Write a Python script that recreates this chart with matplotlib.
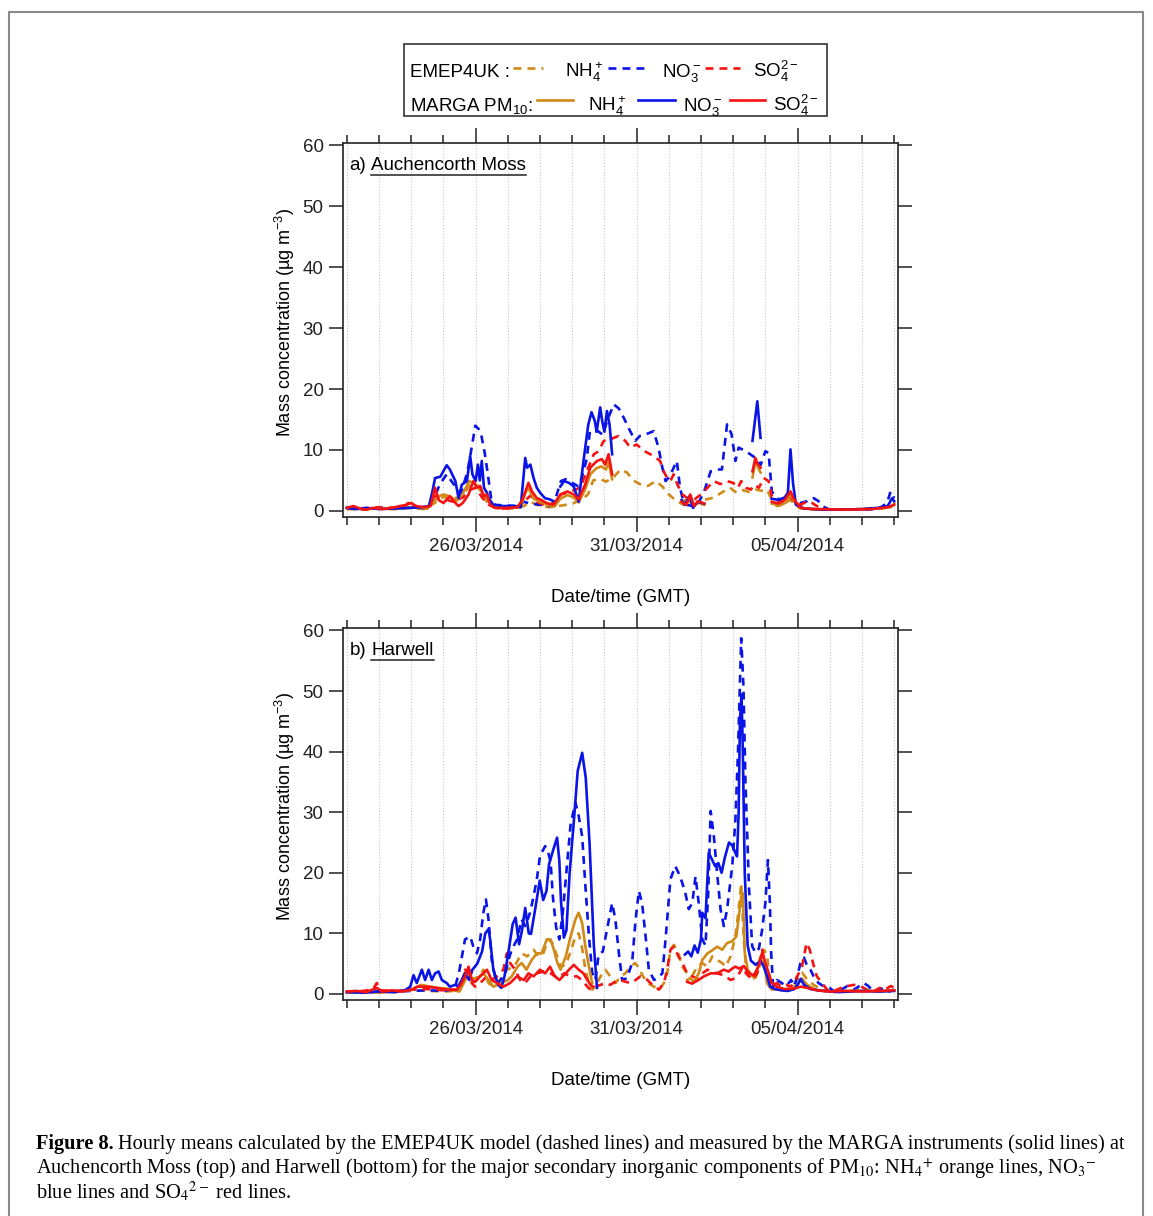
import numpy as np
import matplotlib
matplotlib.use('Agg')
import matplotlib.pyplot as plt
import matplotlib.dates as mdates
from matplotlib.lines import Line2D
from matplotlib.patches import Rectangle

plt.rcParams['font.family'] = ['Liberation Sans', 'DejaVu Sans']
plt.rcParams['mathtext.fontset'] = 'custom'
plt.rcParams['mathtext.rm'] = 'Liberation Sans'
plt.rcParams['mathtext.it'] = 'Liberation Sans:italic'
plt.rcParams['mathtext.bf'] = 'Liberation Sans:bold'

nan = np.nan

# time axis: days after 22/03/2014 00:00 GMT
start = np.datetime64('2014-03-22T00:00')
x_lo, x_hi = -0.12, 17.12

# ---- Auchencorth Moss: (day, ug m-3) ----
auch_nh4_model = [(0, 0.3), (0.5, 0.2), (1, 0.4), (1.5, 0.3), (2, 0.5), (2.4, 0.3), (2.7, 1.2), (3.0, 2.3),
                  (3.3, 2.0), (3.6, 2.5), (3.85, 4.5), (4.05, 4.2), (4.25, 2.2), (4.45, 0.8), (4.7, 0.4),
                  (5.2, 0.4), (5.5, 0.8), (5.7, 1.5), (5.95, 0.9), (6.3, 0.6), (6.7, 0.9), (7.0, 1.2),
                  (7.3, 1.8), (7.5, 2.8), (7.65, 5.0), (7.85, 5.3), (8.05, 4.8), (8.3, 5.6), (8.5, 6.8),
                  (8.7, 6.3), (8.9, 5.0), (9.1, 4.4), (9.35, 4.1), (9.6, 4.9), (9.8, 4.0), (10.0, 2.7),
                  (10.2, 1.8), (10.45, 1.0), (10.8, 1.0), (11.1, 1.8), (11.4, 2.2), (11.7, 3.2), (11.9, 3.8),
                  (12.1, 3.0), (12.3, 3.4), (12.5, 3.1), (12.7, 3.5), (12.9, 3.3), (13.05, 3.5), (13.2, 1.8),
                  (13.35, 0.8), (13.55, 1.0), (13.75, 1.8), (13.9, 1.3), (14.05, 0.5), (14.3, 0.3),
                  (15, 0.2), (16, 0.3), (16.6, 0.4), (16.85, 0.6), (17.0, 0.8)]
auch_no3_model = [(0, 0.4), (0.5, 0.3), (1, 0.5), (1.5, 0.4), (2, 0.6), (2.5, 0.4), (2.7, 2.0), (2.9, 4.5),
                  (3.1, 6.0), (3.3, 4.5), (3.55, 3.0), (3.75, 6.5), (3.88, 10.5), (3.99, 14.0), (4.1, 13.4),
                  (4.17, 12.6), (4.28, 9.6), (4.38, 6.0), (4.48, 2.1), (4.6, 1.0), (4.9, 0.9), (5.3, 0.8),
                  (5.5, 1.5), (5.7, 1.2), (6.0, 1.0), (6.3, 0.8), (6.45, 1.5), (6.55, 3.2), (6.65, 4.9),
                  (6.8, 5.2), (7.0, 4.6), (7.2, 4.0), (7.3, 5.5), (7.45, 8.5), (7.55, 13.1), (7.8, 13.1),
                  (7.95, 12.5), (8.1, 15.0), (8.29, 17.5), (8.45, 16.8), (8.6, 15.3), (8.8, 13.1),
                  (8.96, 11.5), (9.1, 12.3), (9.3, 12.6), (9.53, 13.1), (9.68, 10.4), (9.8, 7.1), (9.9, 4.9),
                  (10.0, 5.5), (10.1, 6.5), (10.25, 8.2), (10.35, 3.8), (10.45, 1.6), (10.55, 1.0),
                  (10.75, 0.8), (10.95, 1.6), (11.1, 3.2), (11.3, 6.5), (11.5, 6.8), (11.65, 6.8),
                  (11.81, 14.2), (11.95, 12.6), (12.07, 8.2), (12.17, 10.4), (12.28, 10.1), (12.45, 9.6),
                  (12.69, 8.7), (12.85, 7.5), (13.0, 9.8), (13.1, 9.5), (13.2, 3.2), (13.35, 2.1),
                  (13.5, 1.8), (13.65, 2.4), (13.8, 2.6), (13.9, 1.6), (14.1, 1.3), (14.3, 1.6), (14.5, 2.1),
                  (14.65, 1.6), (14.8, 0.7), (15.0, 0.2), (16.0, 0.2), (16.5, 0.3), (16.7, 1.0),
                  (16.78, 1.3), (16.89, 3.2), (17.0, 2.1)]
auch_so4_model = [(0, 0.5), (0.5, 0.4), (1, 0.6), (1.5, 0.5), (1.8, 0.8), (1.97, 1.6), (2.1, 0.6), (2.5, 0.4),
                  (2.75, 2.5), (3.0, 2.0), (3.3, 1.5), (3.6, 2.2), (3.85, 3.5), (4.0, 3.8), (4.2, 2.2),
                  (4.4, 1.0), (4.7, 0.4), (5.2, 0.4), (5.5, 1.5), (5.7, 2.5), (5.9, 1.5), (6.2, 0.8),
                  (6.5, 1.5), (6.65, 2.7), (6.95, 3.2), (7.25, 3.8), (7.45, 6.5), (7.67, 9.3), (7.82, 9.8),
                  (7.98, 11.5), (8.2, 11.8), (8.44, 12.3), (8.65, 11.5), (8.8, 10.4), (9.0, 10.9),
                  (9.25, 9.8), (9.53, 9.0), (9.73, 8.2), (9.84, 6.5), (9.95, 5.4), (10.05, 4.9), (10.15, 6.0),
                  (10.27, 4.3), (10.42, 2.7), (10.58, 2.1), (10.8, 1.9), (11.0, 2.7), (11.2, 3.8),
                  (11.4, 4.9), (11.6, 4.4), (11.8, 4.9), (12.0, 4.6), (12.15, 3.8), (12.25, 4.9),
                  (12.4, 3.8), (12.55, 3.5), (12.65, 4.3), (12.8, 3.8), (12.95, 5.4), (13.1, 4.9),
                  (13.2, 2.4), (13.35, 1.8), (13.55, 1.3), (13.75, 2.4), (13.9, 1.6), (14.1, 1.0),
                  (14.3, 1.6), (14.45, 1.3), (14.6, 0.8), (14.8, 0.3), (15.5, 0.2), (16.5, 0.4),
                  (16.9, 0.8), (17.0, 1.0)]
auch_nh4_meas = [(0, 0.5), (0.5, 0.3), (1, 0.4), (1.5, 0.3), (2, 0.6), (2.5, 0.4), (2.7, 1.5), (2.85, 2.4),
                 (3.0, 2.7), (3.2, 2.4), (3.4, 1.6), (3.6, 2.8), (3.8, 4.9), (3.95, 4.5), (4.1, 3.8),
                 (4.25, 2.7), (4.4, 1.8), (4.55, 0.6), (5.0, 0.5), (5.4, 0.6), (5.55, 3.0), (5.64, 3.8),
                 (5.8, 2.0), (6.0, 1.5), (6.3, 0.9), (6.45, 0.7), (6.63, 2.0), (6.85, 2.6), (7.05, 2.2),
                 (7.2, 1.4), (7.4, 3.5), (7.56, 6.0), (7.75, 7.0), (7.9, 7.3), (8.05, 6.8), (8.13, 8.0),
                 (8.24, 5.2), (8.3, nan), (10.4, 1.5), (10.6, 2.0), (10.75, 0.8), (10.9, 1.4), (11.1, 1.0),
                 (11.2, nan), (12.6, 5.5), (12.7, 8.3), (12.78, 7.0), (12.85, 6.3), (12.9, nan),
                 (13.2, 1.2), (13.5, 1.0), (13.65, 1.4), (13.78, 2.8), (13.9, 1.5), (14.1, 0.4),
                 (14.5, 0.3), (15.5, 0.2), (16.5, 0.4), (16.9, 0.6), (17.0, 1.2)]
auch_no3_meas = [(0, 0.5), (0.3, 0.3), (0.6, 0.5), (1, 0.3), (1.5, 0.4), (2, 0.5), (2.3, 0.6), (2.55, 0.8),
                 (2.65, 3.0), (2.74, 5.4), (2.9, 5.6), (3.1, 7.5), (3.2, 6.8), (3.37, 4.9), (3.47, 2.1),
                 (3.57, 4.3), (3.73, 4.9), (3.83, 9.0), (3.9, 6.0), (4.0, 4.9), (4.07, 7.6), (4.13, 5.0),
                 (4.19, 8.2), (4.26, 3.8), (4.35, 3.0), (4.4, 2.1), (4.55, 1.0), (4.8, 0.8), (5.2, 0.8),
                 (5.4, 0.6), (5.54, 8.7), (5.6, 7.1), (5.7, 7.6), (5.8, 5.4), (5.9, 3.8), (6.0, 3.0),
                 (6.15, 2.1), (6.3, 1.9), (6.42, 1.6), (6.5, nan), (6.63, 4.0), (6.75, 4.9), (6.9, 4.6),
                 (7.05, 4.0), (7.2, 1.5), (7.35, 8.2), (7.5, 14.2), (7.6, 16.2), (7.7, 14.8), (7.76, 13.0),
                 (7.87, 17.0), (7.93, 14.8), (8.0, 13.0), (8.08, 16.4), (8.16, 14.2), (8.24, 9.3),
                 (8.3, nan), (10.4, 1.8), (10.5, 1.0), (10.65, 2.5), (10.75, 0.5), (10.9, 1.5), (11.1, 1.2),
                 (11.2, nan), (12.6, 11.5), (12.75, 18.0), (12.85, 12.0), (12.9, nan), (13.2, 2.0),
                 (13.4, 1.8), (13.6, 2.2), (13.7, 3.0), (13.78, 10.1), (13.86, 4.5), (13.95, 1.0),
                 (14.2, 0.4), (14.8, 0.2), (15.5, 0.2), (16.0, 0.3), (16.5, 0.5), (16.8, 0.8),
                 (16.94, 2.1), (17.0, 1.6)]
auch_so4_meas = [(0, 0.5), (0.2, 0.8), (0.4, 0.4), (0.6, 0.2), (0.8, 0.5), (1.1, 0.3), (1.4, 0.5), (1.65, 0.8),
                 (1.85, 1.0), (2.0, 1.3), (2.15, 0.8), (2.4, 0.6), (2.6, 0.8), (2.74, 3.8), (2.85, 1.8),
                 (3.0, 1.3), (3.2, 2.4), (3.37, 1.3), (3.47, 0.8), (3.6, 1.3), (3.78, 2.7), (3.93, 4.9),
                 (4.04, 3.8), (4.14, 4.1), (4.25, 2.4), (4.35, 2.7), (4.45, 1.0), (4.6, 0.5), (5.0, 0.5),
                 (5.3, 0.6), (5.45, 1.8), (5.64, 4.6), (5.75, 3.2), (5.9, 2.1), (6.0, 1.9), (6.2, 1.3),
                 (6.42, 1.0), (6.63, 2.7), (6.85, 3.2), (7.05, 2.7), (7.2, 1.9), (7.4, 4.3), (7.56, 7.1),
                 (7.77, 8.2), (7.92, 8.5), (8.02, 7.6), (8.13, 9.3), (8.24, 6.0), (8.3, nan), (10.4, 1.5),
                 (10.55, 1.0), (10.67, 2.7), (10.78, 0.8), (10.9, 1.6), (11.1, 1.2), (11.2, nan),
                 (12.6, 6.5), (12.69, 8.7), (12.75, 7.8), (12.85, 7.1), (12.9, nan), (13.2, 1.5),
                 (13.4, 1.2), (13.6, 1.8), (13.78, 3.2), (13.9, 1.8), (14.1, 0.5), (14.5, 0.3),
                 (15.5, 0.2), (16.3, 0.3), (16.8, 0.6), (17.0, 1.0)]

# ---- Harwell ----
harw_nh4_model = [(0, 0.3), (0.5, 0.2), (1, 0.4), (1.5, 0.3), (2, 0.6), (2.5, 0.5), (3, 0.4), (3.4, 0.5),
                  (3.6, 2.9), (3.78, 4.5), (3.9, 1.8), (4.05, 2.3), (4.24, 4.0), (4.4, 1.8), (4.55, 1.2),
                  (4.75, 2.3), (4.97, 4.0), (5.2, 4.5), (5.43, 6.7), (5.6, 6.2), (5.8, 7.3), (5.95, 6.2),
                  (6.1, 6.7), (6.26, 9.0), (6.38, 8.4), (6.5, 6.7), (6.64, 4.5), (6.8, 4.8), (6.95, 7.0),
                  (7.1, 9.5), (7.2, 10.0), (7.3, 7.8), (7.41, 4.0), (7.52, 1.8), (7.62, 0.7), (7.72, 1.2),
                  (7.88, 2.9), (8.03, 4.0), (8.18, 2.9), (8.35, 1.8), (8.5, 2.9), (8.65, 3.4), (8.81, 4.5),
                  (8.95, 5.1), (9.05, 4.5), (9.2, 2.9), (9.35, 1.8), (9.54, 1.2), (9.7, 0.7), (9.85, 1.8),
                  (9.95, 3.4), (10.05, 7.3), (10.16, 8.1), (10.3, 6.7), (10.42, 4.5), (10.57, 3.4),
                  (10.72, 2.9), (10.88, 4.5), (11.04, 5.1), (11.2, 4.5), (11.35, 6.2), (11.5, 5.6),
                  (11.66, 5.1), (11.76, 4.5), (11.92, 6.2), (12.07, 9.5), (12.15, 13.0), (12.25, 18.3),
                  (12.33, 9.0), (12.41, 3.5), (12.53, 2.4), (12.7, 2.7), (12.85, 5.1), (12.95, 7.3),
                  (13.05, 6.5), (13.13, 2.4), (13.2, 0.7), (13.4, 0.9), (13.65, 0.7), (13.85, 1.2),
                  (13.99, 2.4), (14.14, 3.5), (14.3, 2.4), (14.5, 1.5), (14.75, 0.7), (15.0, 0.5),
                  (15.5, 0.4), (16.0, 0.8), (16.2, 0.5), (16.6, 0.4), (17.0, 0.6)]
harw_no3_model = [(0, 0.4), (0.5, 0.3), (1, 0.5), (1.5, 0.4), (2, 0.5), (2.5, 0.6), (3.0, 0.5), (3.35, 0.8),
                  (3.5, 4.0), (3.67, 9.0), (3.83, 9.5), (3.93, 7.8), (4.04, 6.7), (4.14, 9.0), (4.24, 13.4),
                  (4.32, 15.6), (4.4, 12.3), (4.5, 5.6), (4.6, 2.9), (4.71, 1.8), (4.8, 2.5), (4.92, 3.4),
                  (5.02, 5.6), (5.12, 7.3), (5.28, 8.9), (5.43, 12.3), (5.54, 11.2), (5.69, 13.4),
                  (5.8, 16.1), (5.9, 18.9), (6.0, 22.8), (6.16, 24.4), (6.25, 23.5), (6.33, 21.7),
                  (6.4, 16.0), (6.5, 11.0), (6.6, 9.0), (6.7, 13.0), (6.85, 22.0), (6.95, 28.0),
                  (7.1, 31.6), (7.2, 29.4), (7.31, 26.0), (7.41, 17.8), (7.52, 9.5), (7.62, 3.5),
                  (7.72, 2.3), (7.82, 6.5), (7.95, 7.0), (8.14, 12.3), (8.24, 15.0), (8.34, 12.3),
                  (8.45, 6.7), (8.55, 2.3), (8.7, 2.6), (8.86, 5.1), (8.97, 12.3), (9.07, 17.0),
                  (9.17, 15.0), (9.28, 9.5), (9.38, 4.0), (9.54, 2.3), (9.65, 2.6), (9.8, 3.4), (9.9, 9.0),
                  (10.05, 18.9), (10.2, 21.1), (10.3, 20.0), (10.42, 18.3), (10.52, 16.5), (10.62, 14.0),
                  (10.73, 15.0), (10.83, 19.4), (10.93, 15.0), (11.04, 9.0), (11.14, 8.0), (11.22, 16.0),
                  (11.3, 30.2), (11.4, 26.0), (11.5, 20.0), (11.61, 13.9), (11.71, 11.2), (11.81, 13.9),
                  (11.97, 21.1), (12.07, 28.8), (12.15, 40.0), (12.25, 58.7), (12.32, 50.7), (12.38, 35.3),
                  (12.49, 17.7), (12.59, 7.9), (12.69, 6.8), (12.8, 7.5), (12.9, 10.6), (13.0, 15.0),
                  (13.08, 22.1), (13.14, 15.0), (13.18, 6.8), (13.24, 1.3), (13.36, 2.3), (13.51, 1.8),
                  (13.65, 1.3), (13.8, 2.3), (13.9, 1.3), (13.99, 2.9), (14.09, 5.1), (14.2, 6.0),
                  (14.3, 4.6), (14.4, 4.0), (14.5, 2.9), (14.65, 1.8), (14.8, 1.3), (15.0, 1.0),
                  (15.18, 0.2), (15.35, 0.7), (15.55, 1.3), (15.75, 0.7), (16.06, 1.8), (16.2, 1.3),
                  (16.35, 0.4), (16.5, 0.7), (16.7, 1.0), (16.85, 0.4), (17.0, 0.7)]
harw_so4_model = [(0, 0.4), (0.5, 0.5), (0.8, 0.7), (0.93, 1.8), (1.05, 0.6), (1.5, 0.5), (2.0, 0.7),
                  (2.5, 0.8), (3.0, 0.6), (3.42, 0.7), (3.55, 1.5), (3.67, 4.0), (3.78, 3.4), (3.88, 1.8),
                  (3.98, 1.2), (4.14, 1.8), (4.35, 2.9), (4.5, 2.3), (4.66, 2.9), (4.86, 4.0), (4.97, 6.7),
                  (5.07, 5.1), (5.23, 4.0), (5.38, 2.3), (5.54, 1.8), (5.7, 2.9), (5.9, 3.4), (6.11, 3.7),
                  (6.33, 3.4), (6.55, 2.6), (6.75, 3.4), (6.95, 2.9), (7.15, 2.9), (7.3, 2.3), (7.47, 1.2),
                  (7.57, 0.7), (7.72, 1.2), (7.88, 1.5), (8.03, 1.8), (8.18, 1.5), (8.34, 2.0), (8.5, 2.3),
                  (8.66, 2.0), (8.81, 1.8), (8.97, 2.3), (9.12, 2.9), (9.28, 2.6), (9.43, 1.8), (9.59, 1.2),
                  (9.69, 0.7), (9.85, 1.8), (9.95, 4.0), (10.05, 7.3), (10.16, 7.8), (10.3, 6.2),
                  (10.42, 5.1), (10.57, 3.4), (10.72, 2.9), (10.88, 2.6), (11.04, 3.4), (11.2, 4.0),
                  (11.35, 3.7), (11.5, 3.4), (11.71, 3.1), (11.92, 2.3), (12.07, 2.6), (12.2, 3.5),
                  (12.3, 4.5), (12.4, 3.4), (12.59, 2.4), (12.75, 3.4), (12.9, 7.3), (13.0, 4.6),
                  (13.1, 2.4), (13.2, 1.2), (13.35, 1.8), (13.51, 1.2), (13.65, 1.5), (13.8, 1.2),
                  (13.99, 2.9), (14.14, 4.6), (14.28, 8.4), (14.38, 7.3), (14.48, 5.1), (14.6, 2.9),
                  (14.76, 1.8), (14.92, 0.7), (15.1, 0.4), (15.35, 1.0), (15.55, 1.3), (15.75, 1.5),
                  (15.95, 1.3), (16.15, 0.7), (16.35, 0.4), (16.55, 1.0), (16.7, 0.7), (16.9, 1.3),
                  (17.0, 1.0)]
harw_nh4_meas = [(0, 0.2), (0.5, 0.3), (1.0, 0.2), (1.5, 0.4), (1.97, 0.6), (2.3, 1.5), (2.5, 1.3), (2.8, 1.0),
                 (3.1, 0.9), (3.3, 0.6), (3.5, 0.4), (3.6, 1.5), (3.75, 3.0), (3.9, 2.5), (4.1, 2.8),
                 (4.24, 3.4), (4.4, 2.3), (4.55, 1.2), (4.8, 1.8), (5.0, 2.3), (5.12, 2.9), (5.3, 4.5),
                 (5.43, 5.1), (5.58, 4.0), (5.74, 5.6), (5.9, 6.7), (6.05, 6.7), (6.21, 9.0), (6.33, 9.0),
                 (6.43, 7.3), (6.54, 5.1), (6.64, 4.0), (6.8, 6.2), (6.95, 9.5), (7.1, 12.3), (7.2, 13.4),
                 (7.31, 11.7), (7.41, 7.8), (7.52, 4.5), (7.62, 1.8), (7.7, nan), (10.57, 2.3),
                 (10.67, 2.6), (10.78, 2.0), (10.93, 3.4), (11.04, 5.6), (11.2, 6.7), (11.35, 7.2),
                 (11.5, 7.8), (11.66, 7.3), (11.81, 8.4), (11.97, 8.7), (12.1, 9.5), (12.18, 13.0),
                 (12.25, 16.1), (12.3, 16.6), (12.36, 6.8), (12.45, 4.0), (12.6, 2.9), (12.75, 4.0),
                 (12.85, 6.2), (12.95, 6.0), (13.05, 1.8), (13.15, 1.0), (13.4, 0.7), (13.65, 0.5),
                 (13.85, 1.0), (14.0, 1.5), (14.14, 2.5), (14.3, 1.5), (14.6, 0.6), (15.0, 0.4),
                 (15.6, 0.5), (16.2, 0.5), (16.6, 0.4), (17.0, 0.6)]
harw_no3_meas = [(0, 0.3), (0.5, 0.2), (1.0, 0.4), (1.5, 0.3), (1.8, 0.6), (1.97, 1.2), (2.07, 3.1),
                 (2.17, 1.8), (2.33, 4.0), (2.43, 2.3), (2.54, 4.0), (2.64, 2.3), (2.74, 3.4), (2.85, 3.7),
                 (2.95, 2.3), (3.1, 1.8), (3.2, 1.2), (3.37, 1.5), (3.47, 1.2), (3.57, 2.3), (3.67, 3.4),
                 (3.8, 2.3), (3.9, 4.0), (4.05, 5.0), (4.2, 7.0), (4.3, 10.0), (4.4, 10.7), (4.45, 9.0),
                 (4.55, 4.0), (4.7, 1.5), (4.8, 1.0), (4.9, 3.0), (5.05, 8.0), (5.15, 11.5), (5.24, 12.6),
                 (5.35, 8.2), (5.44, 10.5), (5.54, 14.2), (5.65, 10.0), (5.72, 9.9), (5.85, 14.0),
                 (5.99, 18.7), (6.1, 15.5), (6.2, 17.0), (6.28, 21.4), (6.4, 23.6), (6.53, 25.8),
                 (6.6, 22.0), (6.65, 15.4), (6.74, 9.3), (6.82, 10.5), (6.92, 20.0), (7.06, 29.1),
                 (7.17, 36.8), (7.31, 39.8), (7.42, 35.7), (7.54, 24.7), (7.67, 8.2), (7.77, 1.0),
                 (7.85, nan), (10.5, 6.5), (10.6, 7.0), (10.7, 6.2), (10.8, 8.0), (10.9, 6.8), (11.0, 9.0),
                 (11.04, 13.4), (11.14, 12.5), (11.24, 23.3), (11.34, 22.2), (11.44, 21.1), (11.54, 21.6),
                 (11.64, 20.0), (11.74, 22.5), (11.87, 25.0), (11.97, 24.5), (12.07, 23.3), (12.12, 22.7),
                 (12.17, 30.0), (12.21, 45.0), (12.26, 49.5), (12.3, 40.0), (12.36, 20.0), (12.45, 8.0),
                 (12.55, 5.5), (12.7, 4.8), (12.85, 5.5), (12.95, 4.5), (13.05, 3.0), (13.15, 1.2),
                 (13.3, 0.8), (13.5, 0.6), (13.7, 0.5), (13.9, 0.8), (14.0, 1.5), (14.1, 2.5), (14.2, 1.5),
                 (14.4, 0.8), (14.8, 0.5), (15.3, 0.3), (16.0, 0.5), (16.5, 0.4), (17.0, 0.5)]
harw_so4_meas = [(0, 0.4), (0.3, 0.5), (0.6, 0.3), (0.93, 1.0), (1.1, 0.4), (1.4, 0.6), (1.7, 0.4), (2.0, 0.7),
                 (2.2, 1.2), (2.5, 1.2), (2.8, 1.0), (3.1, 0.7), (3.42, 0.7), (3.55, 1.6), (3.68, 3.0),
                 (3.78, 4.5), (3.88, 2.3), (3.98, 2.0), (4.14, 2.9), (4.35, 4.0), (4.5, 2.3), (4.66, 1.8),
                 (4.86, 1.2), (5.07, 1.8), (5.28, 2.9), (5.5, 2.3), (5.64, 3.4), (5.8, 2.9), (6.0, 4.0),
                 (6.16, 3.4), (6.31, 4.5), (6.45, 3.0), (6.6, 2.3), (6.8, 3.4), (6.9, 4.0), (7.05, 4.8),
                 (7.2, 4.0), (7.35, 3.4), (7.47, 2.3), (7.57, 1.5), (7.65, 1.2), (7.7, nan), (10.57, 2.0),
                 (10.72, 1.7), (10.92, 2.3), (11.09, 2.9), (11.3, 3.4), (11.5, 3.4), (11.71, 4.0),
                 (11.86, 3.7), (11.97, 4.2), (12.07, 4.5), (12.18, 4.2), (12.33, 4.6), (12.49, 3.5),
                 (12.64, 3.0), (12.79, 4.6), (12.9, 6.8), (13.0, 5.1), (13.1, 3.5), (13.2, 1.8),
                 (13.35, 1.2), (13.6, 0.8), (13.9, 0.9), (14.1, 1.2), (14.3, 1.0), (14.6, 0.6),
                 (15.0, 0.4), (15.5, 0.5), (16.0, 0.4), (16.5, 0.5), (17.0, 0.6)]

ORANGE = '#d08a18'
BLUE = '#0a14e6'
RED = '#f51212'
DASH = (0, (3.0, 2.3))
LW = 1.9

W, H = 1153, 1216


def fx(px):
    return px / W


def fy(py):
    return 1 - py / H


def to_time(days):
    return start + np.round(np.asarray(days, dtype=float) * 1440).astype('timedelta64[m]')


def draw_series(ax, pairs, color, ls):
    arr = np.array(pairs, dtype=float)
    ax.plot(to_time(arr[:, 0]), arr[:, 1], color=color, ls=ls, lw=LW)


fig = plt.figure(figsize=(W / 100, H / 100), dpi=100)

# outer frame of the figure page
fig.add_artist(Rectangle((fx(9), fy(1230)), fx(1143) - fx(9), fy(12) - fy(1230),
                         transform=fig.transFigure, fill=False, ec='#8a8a8a', lw=1.5))

ax_top = fig.add_axes([fx(343), fy(517), fx(898) - fx(343), fy(143) - fy(517)])
ax_bot = fig.add_axes([fx(343), fy(1000), fx(898) - fx(343), fy(628) - fy(1000)])

panels = [
    (ax_top, 'a)', 'Auchencorth Moss',
     [auch_nh4_model, auch_no3_model, auch_so4_model, auch_nh4_meas, auch_no3_meas, auch_so4_meas]),
    (ax_bot, 'b)', 'Harwell',
     [harw_nh4_model, harw_no3_model, harw_so4_model, harw_nh4_meas, harw_no3_meas, harw_so4_meas]),
]
styles = [(ORANGE, DASH), (BLUE, DASH), (RED, DASH), (ORANGE, '-'), (BLUE, '-'), (RED, '-')]

site_texts = []
for ax, tag, site, series in panels:
    ax.grid(True, axis='x', which='both', linestyle=':', color='#c8c8c8', lw=0.8)
    for pairs, (col, ls) in zip(series, styles):
        draw_series(ax, pairs, col, ls)
    ax.set_xlim(to_time(x_lo), to_time(x_hi))
    ax.set_ylim(-1.0, 60.4)
    ax.xaxis.set_major_locator(mdates.DayLocator(bymonthday=[5, 26, 31]))
    ax.xaxis.set_major_formatter(mdates.DateFormatter('%d/%m/%Y'))
    ax.xaxis.set_minor_locator(mdates.DayLocator())
    ax.set_yticks(range(0, 61, 10))
    ax.tick_params(axis='x', which='major', direction='out', length=11, width=1.1,
                   top=True, bottom=True, labelsize=13.5, pad=4, colors='#222')
    ax.tick_params(axis='x', which='minor', direction='out', length=5.5, width=1.1,
                   top=True, bottom=True, colors='#222')
    ax.tick_params(axis='y', direction='out', length=10, width=1.1, left=True, right=True,
                   labelsize=13.5, pad=4, colors='#222')
    for sp in ax.spines.values():
        sp.set_linewidth(1.2)
        sp.set_color('#222')
    ax.set_xlabel('Date/time (GMT)', fontsize=13.5)
    ax.xaxis.label.set_va('center')
    ax.xaxis.set_label_coords(0.5, -81 / 374)
    ax.set_ylabel('Mass concentration (µg m$^{-3}$)', fontsize=13)
    ax.yaxis.label.set_va('center')
    ax.yaxis.set_label_coords(-58 / 555, 0.52)
    t_tag = ax.text(0.012, 0.94, tag, transform=ax.transAxes, fontsize=13.5, va='center', ha='left')
    site_texts.append((ax, t_tag, site))

# legend box at the top
fig.add_artist(Rectangle((fx(404), fy(116)), fx(827) - fx(404), fy(44) - fy(116),
                         transform=fig.transFigure, fill=False, ec='#333', lw=1.2))
leg_rows = [
    (77, 68, DASH, 'EMEP4UK :', [(513, 543, ORANGE, 565, 'NH$_4^+$'), (608, 647, BLUE, 662, 'NO$_3^-$'),
                                 (705, 740, RED, 753, 'SO$_4^{2-}$')]),
    (111, 100, '-', 'MARGA PM$_{10}$:', [(537, 573, ORANGE, 588, 'NH$_4^+$'), (638, 675, BLUE, 683, 'NO$_3^-$'),
                                        (730, 765, RED, 773, 'SO$_4^{2-}$')]),
]
for base, ly, ls, head, items in leg_rows:
    fig.text(fx(410), fy(base), head, fontsize=13.5, va='baseline', ha='left')
    for x0, x1, col, tx, lab in items:
        fig.add_artist(Line2D([fx(x0), fx(x1)], [fy(ly), fy(ly)], transform=fig.transFigure,
                              color=col, ls=ls, lw=LW))
        fig.text(fx(tx), fy(base), lab, fontsize=13.5, va='baseline', ha='left')

# caption
cap_kw = dict(fontsize=14.7, family=['Liberation Serif', 'DejaVu Serif'], math_fontfamily='stix',
              va='baseline', ha='left')
bold = fig.text(fx(36), fy(1149), 'Figure 8.', fontweight='bold', **cap_kw)
fig.text(fx(36), fy(1174), 'Auchencorth Moss (top) and Harwell (bottom) for the major secondary inorganic '
         'components of PM$_{10}$: NH$_4{}^{+}$ orange lines, NO$_3{}^{-}$', **cap_kw)
fig.text(fx(36), fy(1198), 'blue lines and SO$_4{}^{2-}$ red lines.', **cap_kw)

fig.canvas.draw()
rend = fig.canvas.get_renderer()
inv = fig.transFigure.inverted()

bb = bold.get_window_extent(rend)
fig.text(inv.transform((bb.x1 + 4, 0))[0], fy(1149),
         'Hourly means calculated by the EMEP4UK model (dashed lines) and measured by the MARGA '
         'instruments (solid lines) at', **cap_kw)

# site names, underlined
for ax, t_tag, site in site_texts:
    tb = t_tag.get_window_extent(rend)
    x_site = inv.transform((tb.x1 + 5, 0))[0]
    y_site = inv.transform((0, (tb.y0 + tb.y1) / 2))[1]
    t_site = fig.text(x_site, y_site, site, fontsize=13.5, va='center', ha='left')
    fig.canvas.draw()
    sb = t_site.get_window_extent(rend)
    (ux0, uy), (ux1, _) = inv.transform([(sb.x0, sb.y0 - 1), (sb.x1, sb.y0 - 1)])
    fig.add_artist(Line2D([ux0, ux1], [uy, uy], transform=fig.transFigure, color='#222', lw=1.1))

fig.savefig('out.png', dpi=100, facecolor='white')
